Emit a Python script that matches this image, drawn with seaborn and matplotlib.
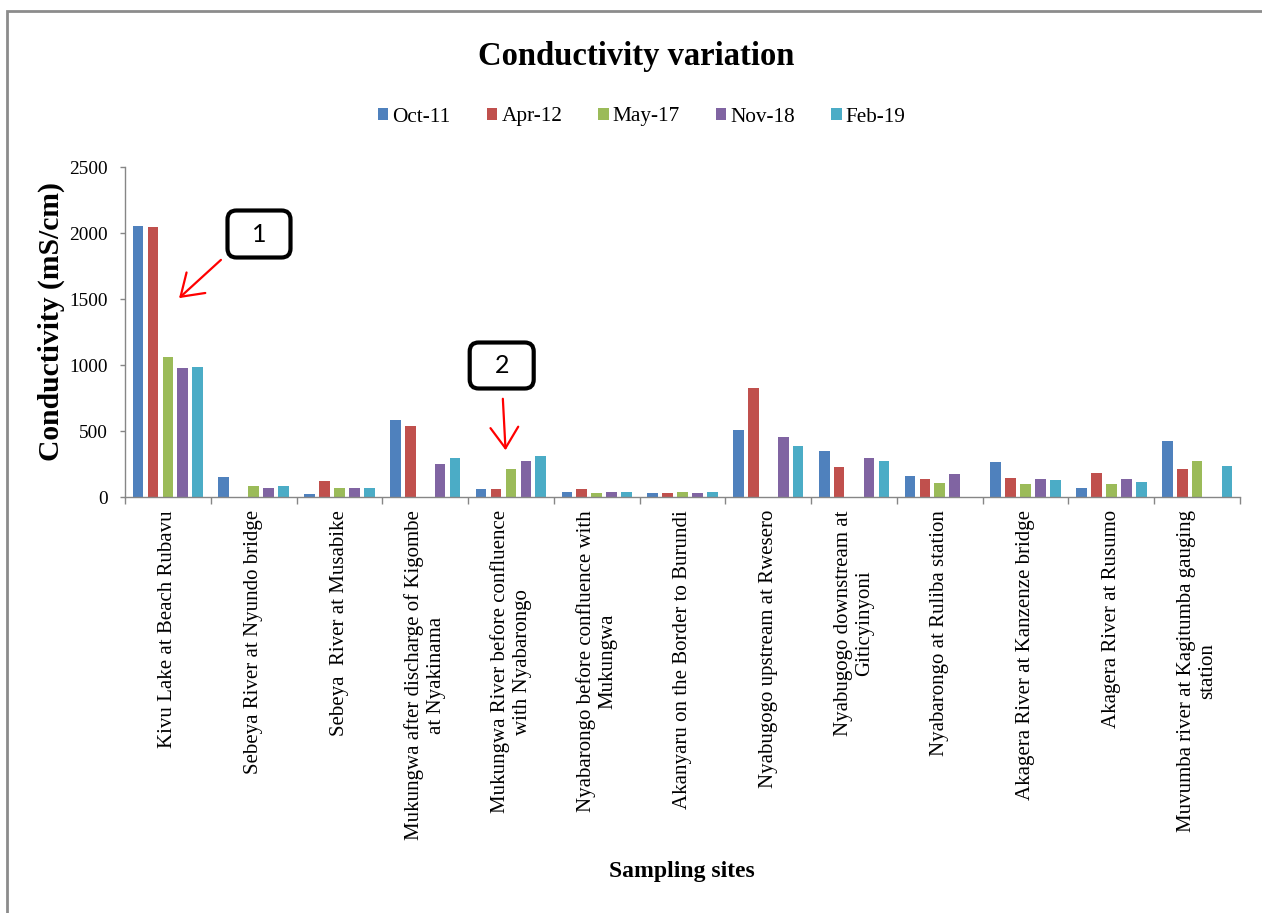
import numpy as np
import pandas as pd
import matplotlib
matplotlib.use("Agg")
import matplotlib.pyplot as plt
import seaborn as sns
from matplotlib.patches import FancyBboxPatch, FancyArrowPatch, Rectangle
from matplotlib.transforms import IdentityTransform

# ---------------- data ----------------
sites = [
    "Kivu Lake at Beach Rubavu",
    "Sebeya River at Nyundo bridge",
    "Sebeya  River at Musabike",
    "Mukungwa after discharge of Kigombe\nat Nyakinama",
    "Mukungwa River before confluence\nwith Nyabarongo",
    "Nyabarongo before confluence with\nMukungwa",
    "Akanyaru on the Border to Burundi",
    "Nyabugogo upstream at Rwesero",
    "Nyabugogo downstream at\nGiticyinyoni",
    "Nyabarongo at Ruliba station",
    "Akagera River at Kanzenze bridge",
    "Akagera River at Rusumo",
    "Muvumba river at Kagitumba gauging\nstation",
]
periods = ["Oct-11", "Apr-12", "May-17", "Nov-18", "Feb-19"]
nan = np.nan
oct11 = [2055, 148, 23, 586, 61, 40, 33, 505, 351, 157, 263, 66, 427]
apr12 = [2045, nan, 121, 538, 61, 61, 33, 826, 225, 134, 146, 184, 215]
may17 = [1061, 80, 68, nan, 214, 33, 40, nan, nan, 106, 96, 96, 270]
nov18 = [974, 68, 68, 247, 275, 40, 33, 457, 293, 174, 134, 134, nan]
feb19 = [985, 80, 68, 295, 313, 40, 40, 389, 273, nan, 126, 116, 232]
colors = ["#4F81BD", "#C0504D", "#9BBB59", "#8064A2", "#4BACC6"]

series = dict(zip(periods, [oct11, apr12, may17, nov18, feb19]))
df = pd.DataFrame(
    [(s, p, v) for p in periods for s, v in zip(sites, series[p])],
    columns=["site", "period", "value"],
).dropna()

# ---------------- figure ----------------
W, H = 1262, 913
sns.set_style("white")
plt.rcParams["font.family"] = ["Liberation Serif", "DejaVu Serif"]
plt.rcParams["text.color"] = "black"
plt.rcParams["xtick.labelcolor"] = "black"
plt.rcParams["ytick.labelcolor"] = "black"
fig = plt.figure(figsize=(W / 100, H / 100), dpi=100)
ax = fig.add_axes([125 / W, 1 - 497 / H, (1240 - 125) / W, (497 - 167) / H])

sns.barplot(
    data=df, x="site", y="value", hue="period",
    order=sites, hue_order=periods, palette=dict(zip(periods, colors)),
    saturation=1, width=0.87, gap=0.28, linewidth=0, ax=ax, legend=True,
)

handles, labels = ax.get_legend_handles_labels()
ax.get_legend().remove()
fig.legend(
    handles, labels, loc="center", bbox_to_anchor=(0.5085, 1 - 117 / H),
    ncol=5, frameon=False, fontsize=15.3, handlelength=0.5, handleheight=0.5,
    handletextpad=0.2, columnspacing=1.68, labelcolor="black",
)

ax.set_xlim(-0.5, len(sites) - 0.5)
ax.set_ylim(0, 2500)
ax.set_yticks(np.arange(0, 2501, 500))
ax.tick_params(axis="y", which="major", direction="out", length=3.6, width=1,
               color="#868686", labelcolor="black", labelsize=13.9, pad=8.6,
               left=True)
ax.set_xticks(range(len(sites)))
ax.set_xticklabels(sites, rotation=90, ha="center", va="top",
                   multialignment="center", fontsize=15, color="black")
ax.tick_params(axis="x", which="major", length=0, pad=9.4)
ax.set_xticks(np.arange(-0.5, len(sites), 1), minor=True)
ax.tick_params(axis="x", which="minor", direction="out", length=5, width=1,
               color="#868686", bottom=True)
for side in ["top", "right"]:
    ax.spines[side].set_visible(False)
for side in ["left", "bottom"]:
    ax.spines[side].set_color("#868686")
    ax.spines[side].set_linewidth(1)
ax.set_xlabel("")
ax.set_ylabel("")

fig.text(636.5 / W, 1 - 56 / H, "Conductivity variation", ha="center",
         va="center", fontsize=23.5, fontweight="bold", color="black")
fig.text(51 / W, 1 - 322 / H, "Conductivity (mS/cm)", ha="center",
         va="center", rotation=90, fontsize=21.3, fontweight="bold",
         color="black")
fig.text(682 / W, 1 - 872 / H, "Sampling sites", ha="center", va="center",
         fontsize=17, fontweight="bold", color="black")

# outer frame (left and top edges visible)
fig.add_artist(Rectangle((7, -200), 2000, H - 11 + 200, fill=False,
                         ec="#8C8C8C", lw=2.0, transform=IdentityTransform()))

# annotation boxes and arrows (pixel coordinates from top-left)
def box(cx, cy, w, h, label):
    fig.add_artist(FancyBboxPatch((cx - w / 2, H - cy - h / 2), w, h,
                                  boxstyle="round,pad=0,rounding_size=9",
                                  fc="white", ec="black", lw=3,
                                  transform=IdentityTransform()))
    fig.text(cx / W, 1 - cy / H, label, ha="center", va="center",
             fontsize=18, family=["Lato", "DejaVu Sans"], color="black")

def arrow(x0, y0, x1, y1):
    fig.add_artist(FancyArrowPatch((x0 / W, 1 - y0 / H), (x1 / W, 1 - y1 / H),
                                   transform=fig.transFigure,
                                   arrowstyle="->,head_length=0.75,head_width=0.5",
                                   mutation_scale=20, color="red", lw=1.6))

box(259, 234, 63, 47, "1")
arrow(223, 258, 177, 300)
box(501.7, 365.5, 64, 46, "2")
arrow(502.7, 396, 505.7, 453)

fig.savefig("out.png", dpi=100)
